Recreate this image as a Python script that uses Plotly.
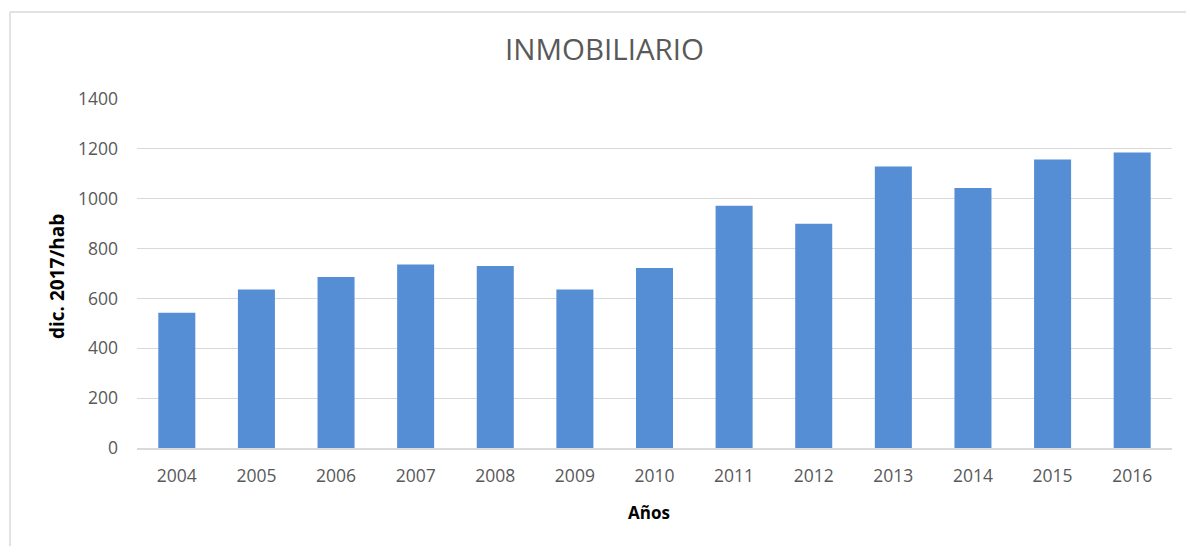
import plotly.graph_objects as go

years = ["2004", "2005", "2006", "2007", "2008", "2009", "2010",
         "2011", "2012", "2013", "2014", "2015", "2016"]
values = [543, 636, 686, 736, 730, 636, 722, 972, 900, 1129, 1043, 1157, 1185]
y_ticks = [0, 200, 400, 600, 800, 1000, 1200, 1400]

chart_title = "INMOBILIARIO"
x_title = "Años"
y_title = "dic. 2017/hab"

W, H = 1186, 546
L, R, T, B = 137, 14, 99, 98
pw, ph = W - L - R, H - T - B

def px_to_paper_x(px):
    return (px - L) / pw

def px_to_paper_y(py):
    return (H - B - py) / ph

fig = go.Figure(go.Bar(
    x=years, y=values,
    marker=dict(color="#558ed5", line=dict(width=0)),
    width=0.465,
))

grey = "#595959"
fig.update_layout(
    width=W, height=H,
    margin=dict(l=L, r=R, t=T, b=B),
    paper_bgcolor="white", plot_bgcolor="white",
    showlegend=False,
    font=dict(family="Open Sans", color=grey),
    title=dict(text=chart_title, x=604.5 / W, xanchor="center",
               y=1 - 50 / H, yanchor="middle",
               font=dict(family="Open Sans", size=29.5, color=grey)),
    xaxis=dict(type="category", showgrid=False, showline=True,
               linecolor="#d9d9d9", linewidth=1.5, ticks="",
               tickfont=dict(size=17.5, color=grey), ticklabelstandoff=11),
    yaxis=dict(range=[0, 1400], tickvals=y_ticks, showgrid=True,
               gridcolor="#d9d9d9", gridwidth=1, zeroline=False,
               showline=False, ticks="",
               tickfont=dict(size=17.5, color=grey), ticklabelstandoff=18),
    annotations=[
        dict(text="<b>" + x_title + "</b>", xref="paper", yref="paper",
             x=px_to_paper_x(649), y=px_to_paper_y(512),
             xanchor="center", yanchor="middle", showarrow=False,
             font=dict(family="Open Sans", size=17, color="black")),
        dict(text="<b>" + y_title + "</b>", xref="paper", yref="paper",
             x=px_to_paper_x(57), y=px_to_paper_y(277), textangle=-90,
             xanchor="center", yanchor="middle", showarrow=False,
             font=dict(family="Open Sans", size=19, color="black")),
    ],
    shapes=[
        dict(type="line", xref="paper", yref="paper",
             x0=px_to_paper_x(10), x1=px_to_paper_x(W + 5),
             y0=px_to_paper_y(12), y1=px_to_paper_y(12),
             line=dict(color="#d9d9d9", width=1.5)),
        dict(type="line", xref="paper", yref="paper",
             x0=px_to_paper_x(10), x1=px_to_paper_x(10),
             y0=px_to_paper_y(12), y1=px_to_paper_y(H + 5),
             line=dict(color="#d9d9d9", width=1.5)),
    ],
)

fig.write_html(
    "out.html",
    config={"displayModeBar": False},
    post_script="document.body.style.margin='0';document.body.style.overflow='hidden';",
)
